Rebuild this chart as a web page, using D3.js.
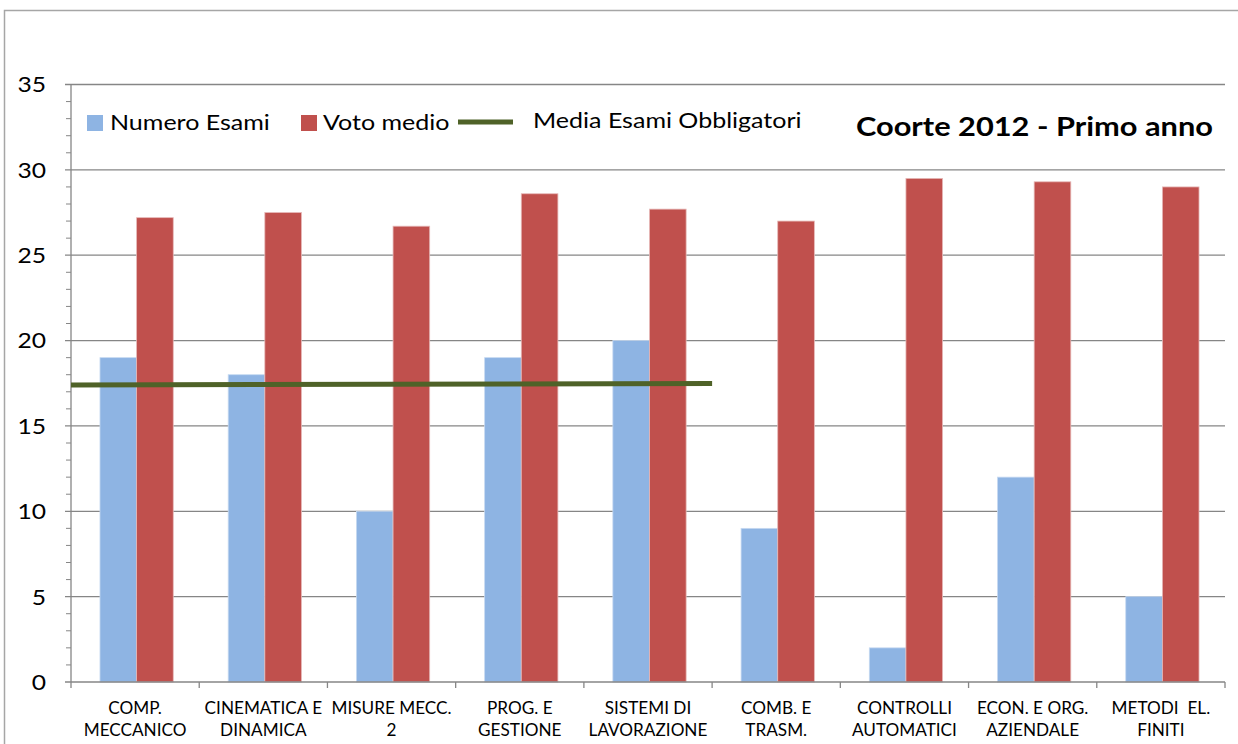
<!DOCTYPE html>
<html><head><meta charset="utf-8">
<script src="https://cdn.jsdelivr.net/npm/d3@7"></script>
<style>
html,body{margin:0;padding:0;background:#fff;}
svg{display:block;font-family:Lato, "Open Sans", sans-serif;}
</style></head>
<body><svg id="chart" width="1238" height="744"></svg>
<script>
const categories = ["COMP.\nMECCANICO","CINEMATICA E\nDINAMICA","MISURE MECC.\n2","PROG. E\nGESTIONE","SISTEMI DI\nLAVORAZIONE","COMB. E\nTRASM.","CONTROLLI\nAUTOMATICI","ECON. E ORG.\nAZIENDALE","METODI  EL.\nFINITI"];
const numeroEsami = [19, 18, 10, 19, 20, 9, 2, 12, 5];
const votoMedio = [27.2, 27.5, 26.7, 28.6, 27.7, 27.0, 29.5, 29.3, 29.0];
// Media Esami Obbligatori: line spanning category boundaries 0..5
const mediaPos = [0, 5];
const mediaVal = [17.4, 17.48];
const yTicks = [0, 5, 10, 15, 20, 25, 30, 35];
const seriesNames = ["Numero Esami", "Voto medio", "Media Esami Obbligatori"];
const title = "Coorte 2012 - Primo anno";

const svg = d3.select("#chart");
const M = {left:71, right:1225, top:84.5, bottom:682};
const gray = "#868686";
const blue = "#8EB4E3", red = "#C0504D", olive = "#4F6228";

// horizontally stretch text (the reference is a widened image)
function stretch(sel, k){
  sel.each(function(){
    const w = this.getComputedTextLength();
    if (w > 0) d3.select(this).attr("textLength", w*k).attr("lengthAdjust","spacingAndGlyphs");
  });
}

// outer frame
svg.append("path").attr("d","M4.5,744 L4.5,10.5 L1238,10.5").attr("fill","none").attr("stroke","#a6a6a6").attr("stroke-width",1.5);

const x = d3.scaleBand().domain(d3.range(categories.length)).range([M.left, M.right]).paddingInner(0).paddingOuter(0);
const bw = x.bandwidth()/3.5;
const y = d3.scaleLinear().domain([0,35]).range([M.bottom, M.top]);
const xEdge = d3.scaleLinear().domain([0, categories.length]).range([M.left, M.right]);

// gridlines
svg.append("g").selectAll("line").data(yTicks.filter(d=>d>0)).join("line")
  .attr("x1",M.left-6).attr("x2",M.right).attr("y1",d=>y(d)).attr("y2",d=>y(d))
  .attr("stroke",gray).attr("stroke-width",1.3);
// minor ticks
svg.append("g").selectAll("line").data(d3.range(0,36).filter(d=>d%5!==0)).join("line")
  .attr("x1",M.left-5).attr("x2",M.left).attr("y1",d=>y(d)).attr("y2",d=>y(d))
  .attr("stroke",gray).attr("stroke-width",1);

// bars
const off = 1.5;
const g = svg.append("g");
g.selectAll("rect.b").data(numeroEsami).join("rect").attr("class","b")
  .attr("x",(d,i)=>x(i)+x.bandwidth()/2-bw+off).attr("width",bw)
  .attr("y",d=>y(d)).attr("height",d=>y(0)-y(d))
  .attr("fill",blue).attr("stroke","#c6d9f1").attr("stroke-width",0.8);
g.selectAll("rect.r").data(votoMedio).join("rect").attr("class","r")
  .attr("x",(d,i)=>x(i)+x.bandwidth()/2+off).attr("width",bw)
  .attr("y",d=>y(d)).attr("height",d=>y(0)-y(d))
  .attr("fill",red).attr("stroke","#e6b9b8").attr("stroke-width",0.8);

// axes
svg.append("line").attr("x1",M.left).attr("x2",M.left).attr("y1",M.top).attr("y2",M.bottom).attr("stroke",gray).attr("stroke-width",1.3);
svg.append("line").attr("x1",M.left-6).attr("x2",M.right).attr("y1",M.bottom).attr("y2",M.bottom).attr("stroke",gray).attr("stroke-width",1.3);
svg.append("g").selectAll("line").data(d3.range(0,categories.length+1)).join("line")
  .attr("x1",d=>xEdge(d)).attr("x2",d=>xEdge(d)).attr("y1",M.bottom).attr("y2",M.bottom+6)
  .attr("stroke",gray).attr("stroke-width",1.3);

// y labels
const yl = svg.append("g").selectAll("text").data(yTicks).join("text")
  .attr("x",46).attr("y",d=>y(d)).attr("dy","0.36em").attr("text-anchor","end")
  .attr("font-size",22).attr("fill","#000").text(d=>d);
stretch(yl, 1.12);

// x labels
const xl = svg.append("g").selectAll("text").data(categories).join("text")
  .attr("text-anchor","middle").attr("font-size",17).attr("fill","#000");
xl.each(function(d,i){
  const t = d3.select(this);
  d.split("\n").forEach((line,j)=>{
    t.append("tspan").attr("x",x(i)+x.bandwidth()/2).attr("y",714+j*21.5).attr("xml:space","preserve").text(line);
  });
});
stretch(xl.selectAll("tspan"), 1.01);

// media line
const line = d3.line().x(d=>xEdge(d[0])).y(d=>y(d[1]));
svg.append("path").datum(mediaPos.map((p,i)=>[p, mediaVal[i]])).attr("d",line)
  .attr("fill","none").attr("stroke",olive).attr("stroke-width",5);

// legend
const lg = svg.append("g").attr("font-size",20.5).attr("fill","#000");
lg.append("rect").attr("x",87).attr("y",115).attr("width",16).attr("height",16).attr("fill",blue);
lg.append("text").attr("x",110).attr("y",130).text(seriesNames[0]);
lg.append("rect").attr("x",301).attr("y",115).attr("width",16).attr("height",16).attr("fill",red);
lg.append("text").attr("x",323).attr("y",130).text(seriesNames[1]);
lg.append("line").attr("x1",458).attr("x2",513).attr("y1",122).attr("y2",122).attr("stroke",olive).attr("stroke-width",5);
lg.append("text").attr("x",533).attr("y",128).text(seriesNames[2]);
stretch(lg.selectAll("text"), 1.22);

const tt = svg.append("text").attr("x",1213).attr("y",135.5).attr("text-anchor","end")
  .attr("font-size",27).attr("font-weight","bold").attr("fill","#000").text(title);
stretch(tt, 1.14);
</script></body></html>
